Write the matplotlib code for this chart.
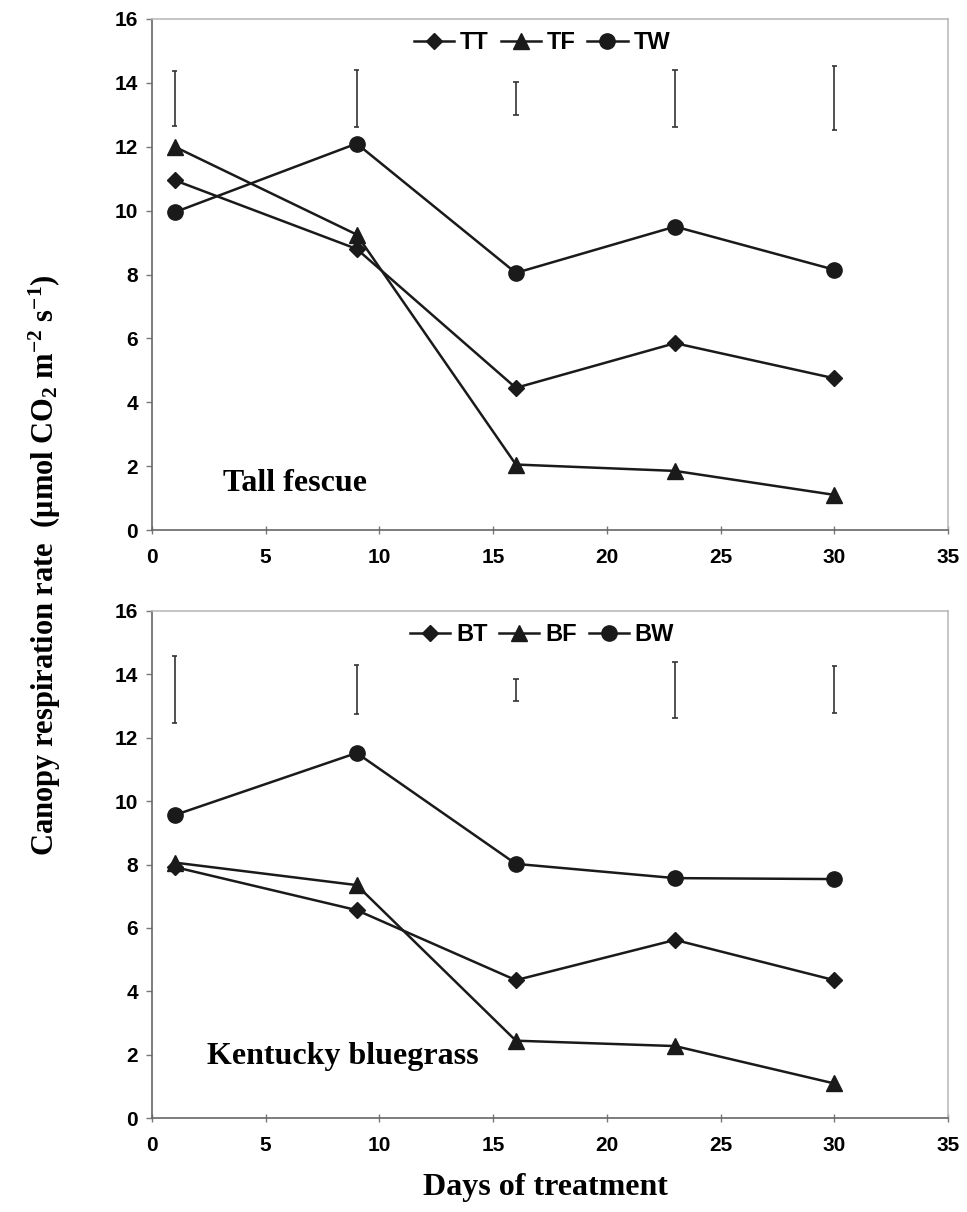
import matplotlib
matplotlib.use("Agg")
import matplotlib.pyplot as plt

plt.rcParams["mathtext.fontset"] = "custom"
plt.rcParams["mathtext.rm"] = "Liberation Serif:bold"
plt.rcParams["mathtext.bf"] = "Liberation Serif:bold"
plt.rcParams["mathtext.it"] = "Liberation Serif:bold:italic"

# days of treatment
days = [1, 9, 16, 23, 30]

# tall fescue
tt = [10.95, 8.8, 4.45, 5.85, 4.75]
tf = [12.0, 9.25, 2.05, 1.85, 1.1]
tw = [9.95, 12.1, 8.05, 9.5, 8.15]
t_err_lo = [12.65, 12.63, 13.0, 12.63, 12.52]
t_err_hi = [14.38, 14.4, 14.04, 14.4, 14.53]

# kentucky bluegrass
bt = [7.92, 6.56, 4.35, 5.62, 4.35]
bf = [8.06, 7.35, 2.44, 2.27, 1.09]
bw = [9.56, 11.52, 8.02, 7.57, 7.54]
b_err_lo = [12.45, 12.75, 13.16, 12.62, 12.78]
b_err_hi = [14.59, 14.29, 13.86, 14.4, 14.27]

xticks = [0, 5, 10, 15, 20, 25, 30, 35]
yticks = [0, 2, 4, 6, 8, 10, 12, 14, 16]

line_col = "#1a1a1a"
tick_font = {"family": "Liberation Sans", "weight": "bold", "size": 15}
serif = "Liberation Serif"


def panel(ax, series, names, err_lo, err_hi, label, label_xy):
    markers = ["D", "^", "o"]
    msizes = [8, 11, 11]
    for vals, name, m, ms in zip(series, names, markers, msizes):
        ax.plot(days, vals, color=line_col, lw=1.8, marker=m, ms=ms,
                mfc=line_col, mec=line_col, label=name)
    # LSD bars
    ax.vlines(days, err_lo, err_hi, color="#333333", lw=1.2)
    ax.hlines(err_lo, [d - 0.12 for d in days], [d + 0.12 for d in days],
              color="#333333", lw=1.2)
    ax.hlines(err_hi, [d - 0.12 for d in days], [d + 0.12 for d in days],
              color="#333333", lw=1.2)

    ax.set_xlim(0, 35)
    ax.set_ylim(0, 16)
    ax.set_xticks(xticks)
    ax.set_yticks(yticks)
    ax.set_xticklabels([str(v) for v in xticks], fontdict=tick_font)
    ax.set_yticklabels([str(v) for v in yticks], fontdict=tick_font)
    ax.tick_params(axis="x", direction="inout", length=6, width=1,
                   color="#777777", pad=10)
    ax.tick_params(axis="y", direction="out", length=4, width=1,
                   color="#777777", pad=6)
    for s in ["left", "bottom"]:
        ax.spines[s].set_color("#666666")
        ax.spines[s].set_linewidth(1.2)
    for s in ["top", "right"]:
        ax.spines[s].set_color("#bbbbbb")
        ax.spines[s].set_linewidth(1.2)

    ax.legend(loc="upper center", bbox_to_anchor=(0.49, 1.018), ncol=3,
              frameon=False, handlelength=1.7, handletextpad=0.25,
              columnspacing=0.5,
              prop={"family": "Liberation Sans", "weight": "bold", "size": 17})
    ax.text(label_xy[0], label_xy[1], label, family=serif, fontweight="bold",
            fontsize=23, va="center", ha="left")


fig = plt.figure(figsize=(9.67, 12.12), dpi=100)
ax1 = fig.add_axes([152 / 967, 1 - 530 / 1212, 796 / 967, 511 / 1212])
ax2 = fig.add_axes([152 / 967, 1 - 1118 / 1212, 796 / 967, 507 / 1212])

panel(ax1, [tt, tf, tw], ["TT", "TF", "TW"], t_err_lo, t_err_hi,
      "Tall fescue", (3.1, 1.45))
panel(ax2, [bt, bf, bw], ["BT", "BF", "BW"], b_err_lo, b_err_hi,
      "Kentucky bluegrass", (2.4, 1.95))

fig.text(45 / 967, 1 - 565 / 1212,
         "Canopy respiration rate  (\u03bcmol CO$_2$ m$^{-2}$ s$^{-1}$)",
         rotation=90, ha="center", va="center", family=serif,
         fontweight="bold", fontsize=22)
fig.text(545 / 967, 1 - 1188 / 1212, "Days of treatment", ha="center",
         va="center", family=serif, fontweight="bold", fontsize=23)

fig.savefig("out.png", dpi=100)
